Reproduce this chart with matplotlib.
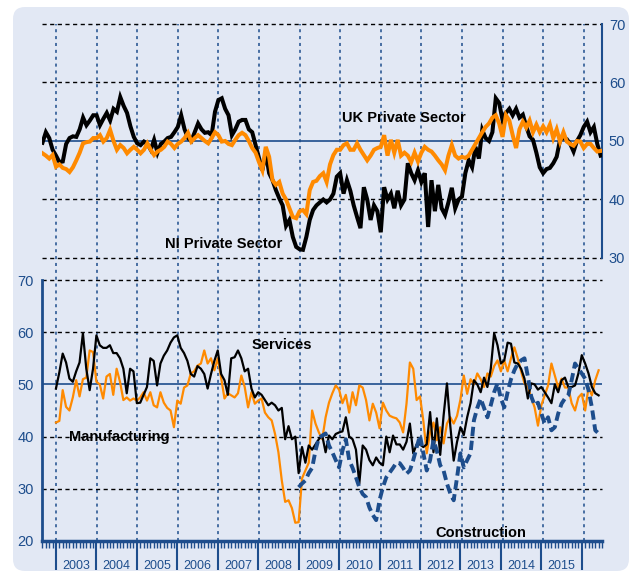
import numpy as np
import matplotlib
matplotlib.use("Agg")
import matplotlib.pyplot as plt
from matplotlib.patches import FancyBboxPatch
import matplotlib.transforms as mtransforms

plt.rcParams['font.family'] = ['Liberation Sans', 'DejaVu Sans']

# monthly PMI readings
# top panel starts Sep 2002, bottom panel Jan 2003, construction Jan 2009
ni_private = [
    49.7, 51.5, 50.5, 48.5,
    47.5, 46.4, 46.5, 49.5, 50.5, 50.8, 50.7, 52.0, 54.0, 52.7, 53.5, 54.4,
    54.4, 52.7, 53.8, 54.8, 53.5, 55.5, 55.0, 57.5, 56.0, 54.8, 52.5, 50.7,
    49.6, 49.3, 49.9, 49.5, 48.5, 50.2, 48.0, 49.5, 49.9, 50.5, 50.7, 51.5,
    52.4, 54.4, 52.0, 50.5, 50.0, 51.5, 53.0, 52.0, 51.4, 51.5, 51.0, 55.0,
    57.0, 57.3, 55.5, 54.4, 51.0, 52.0, 53.3, 53.6, 53.6, 52.0, 51.5, 49.3,
    47.1, 45.0, 48.0, 44.5, 43.3, 41.6, 40.2, 39.0, 35.5, 36.5, 33.6, 31.9,
    31.5, 31.4, 33.6, 36.5, 38.2, 39.0, 39.5, 40.0, 39.5, 40.0, 41.0, 43.9,
    44.5, 41.0, 43.3, 41.5, 39.0, 37.0, 35.1, 42.1, 40.0, 36.5, 39.0, 38.0,
    34.4, 42.1, 40.0, 41.0, 38.5, 41.5, 39.0, 40.0, 46.2, 44.5, 43.3, 45.0,
    43.0, 44.5, 35.3, 43.3, 38.0, 42.5, 38.5, 37.4, 39.5, 42.0, 38.5, 40.0,
    40.5, 44.5, 46.7, 45.5, 49.0, 47.0, 51.9, 50.5, 50.0, 51.5, 57.3, 56.5,
    53.6, 54.8, 55.5, 54.4, 55.5, 54.0, 54.5, 52.5, 50.8, 50.2, 48.0, 45.5,
    44.5, 45.2, 45.4, 46.2, 47.3, 50.2, 50.5, 50.3, 49.5, 48.2, 50.0, 51.0,
    52.4, 53.3, 51.5, 52.4, 49.5, 47.5,
]
uk_private = [
    47.9, 47.5, 47.0, 47.6,
    45.6, 46.0, 45.4, 45.2, 44.7, 45.5, 46.7, 48.0, 49.6, 49.8, 49.9, 50.5,
    50.5, 51.0, 49.9, 50.5, 51.9, 50.0, 48.5, 49.3, 48.8, 47.9, 48.5, 49.0,
    48.5, 47.9, 48.5, 49.6, 48.5, 47.6, 48.2, 48.5, 49.0, 49.9, 49.5, 48.8,
    49.5, 49.9, 50.5, 51.4, 49.9, 50.5, 51.0, 50.5, 50.0, 49.6, 50.5, 51.5,
    51.0, 49.9, 50.0, 49.5, 49.3, 50.2, 51.0, 51.4, 51.0, 50.0, 48.8, 48.0,
    46.4, 45.0, 49.0, 47.3, 43.3, 42.5, 43.0, 41.0, 40.0, 38.5, 37.0, 36.8,
    38.0, 38.2, 37.5, 41.6, 43.0, 43.2, 44.0, 44.5, 43.0, 46.0, 47.6, 48.5,
    48.5, 49.3, 49.6, 48.5, 48.5, 49.6, 48.5, 47.6, 46.7, 47.5, 48.5, 48.8,
    49.0, 51.0, 47.5, 50.2, 48.0, 50.2, 47.5, 48.0, 47.5, 46.4, 48.0, 46.5,
    48.0, 49.0, 48.5, 48.2, 47.5, 46.7, 46.0, 45.0, 47.5, 49.3, 47.5, 47.0,
    47.3, 47.1, 47.5, 48.5, 49.5, 50.5, 51.5, 52.4, 53.0, 54.0, 54.4, 53.0,
    50.7, 54.4, 53.5, 51.0, 48.8, 52.0, 53.3, 52.3, 53.5, 51.5, 52.8, 51.5,
    52.5, 51.5, 52.8, 50.5, 52.0, 49.9, 51.5, 49.9, 49.5, 49.2, 50.0, 49.9,
    48.8, 49.5, 49.5, 48.8, 48.2, 48.3,
]
services = [
    49.2, 52.3, 55.9, 54.2, 51.1, 50.5, 52.5, 54.2, 59.8, 53.0, 48.9, 53.0,
    59.4, 57.5, 57.0, 57.0, 57.5, 56.0, 56.0, 55.0, 53.0, 48.3, 53.0, 52.5,
    46.4, 46.5, 48.0, 49.5, 55.0, 54.5, 49.8, 54.0, 55.5, 56.5, 58.0, 59.0,
    59.4, 57.0, 56.0, 54.5, 52.0, 51.5, 53.5, 53.0, 52.0, 49.2, 52.0, 54.5,
    56.5, 52.0, 50.8, 48.0, 55.0, 55.2, 56.5, 55.0, 52.5, 53.0, 49.2, 47.5,
    48.5, 48.0, 47.0, 46.0, 46.5, 46.0, 45.0, 45.5, 39.5, 42.0, 39.5, 40.0,
    33.0, 38.0, 35.0, 38.3, 37.5, 38.5, 39.5, 40.2, 37.0, 40.2, 39.5, 40.5,
    40.8, 41.0, 43.7, 40.0, 39.5, 37.5, 31.0, 38.3, 37.5, 35.5, 34.5, 36.0,
    35.0, 34.5, 40.0, 37.0, 40.2, 38.5, 38.5, 37.5, 39.0, 42.5, 36.8, 38.5,
    38.5, 38.0, 38.5, 44.7, 37.0, 43.5, 36.5, 44.0, 50.2, 42.0, 35.4, 39.0,
    41.8, 40.3, 43.7, 46.4, 50.8, 50.0, 48.5, 51.3, 49.5, 53.0, 59.8, 57.5,
    54.0, 54.6, 58.0, 57.8, 54.2, 54.0, 53.0, 51.1, 47.3, 50.2, 50.0, 49.0,
    49.5, 48.5, 47.5, 46.4, 50.0, 48.5, 50.8, 51.3, 49.5, 49.5, 49.8, 52.1,
    55.6, 54.0, 52.1, 49.5, 48.3, 47.9,
]
manufacturing = [
    42.7, 43.0, 48.9, 45.7, 45.0, 47.5, 50.8, 47.7, 51.0, 51.3, 56.5, 56.2,
    50.5, 50.0, 47.3, 51.5, 52.0, 48.0, 53.0, 50.5, 47.0, 47.5, 46.9, 47.3,
    46.9, 47.5, 48.5, 46.9, 48.5, 46.0, 45.6, 48.5, 46.5, 45.5, 45.0, 41.8,
    46.9, 46.3, 49.4, 49.8, 52.1, 52.5, 53.6, 54.0, 56.5, 54.0, 55.0, 52.7,
    55.0, 51.3, 47.3, 48.3, 47.9, 47.5, 48.3, 51.7, 49.5, 45.6, 48.5, 46.3,
    46.9, 47.3, 44.6, 43.7, 43.1, 40.5, 37.0, 31.6, 27.5, 27.8, 26.3, 23.5,
    23.6, 32.0, 33.5, 35.0, 45.0, 42.5, 40.8, 39.5, 43.7, 46.5, 48.3, 49.8,
    49.0, 46.4, 48.0, 44.6, 48.5, 46.0, 49.8, 49.4, 47.0, 43.1, 46.3, 44.6,
    41.6, 46.5, 45.0, 44.0, 43.7, 43.5, 42.7, 40.8, 46.3, 54.2, 53.0, 47.0,
    47.7, 43.0, 36.8, 40.8, 42.7, 39.3, 41.8, 38.7, 42.5, 43.7, 42.5, 44.0,
    47.1, 51.7, 48.2, 51.0, 50.0, 52.1, 51.0, 49.5, 52.1, 51.5, 53.5, 54.6,
    52.5, 54.6, 52.5, 55.0, 57.1, 55.0, 52.5, 50.2, 49.5, 47.5, 45.6, 42.1,
    46.0, 47.9, 49.8, 54.0, 51.7, 49.4, 51.1, 49.4, 49.4, 46.4, 45.0, 47.5,
    48.2, 45.0, 49.4, 47.9, 50.8, 52.7,
]
construction = [
    30.3, 31.0, 31.6, 33.0, 34.0, 37.3, 39.8, 40.2, 40.6, 38.3, 37.0, 35.5,
    34.1, 37.3, 39.5, 35.5, 34.0, 32.2, 30.3, 29.0, 28.4, 26.4, 25.0, 24.0,
    27.8, 30.3, 32.2, 33.1, 34.0, 35.0, 34.9, 34.0, 32.9, 33.5, 35.5, 37.9,
    40.2, 36.8, 33.5, 35.5, 39.3, 37.3, 34.5, 33.5, 31.0, 29.1, 27.8, 32.2,
    36.8, 34.1, 35.5, 36.8, 43.1, 45.5, 47.3, 45.5, 43.7, 46.0, 48.5, 50.2,
    47.3, 45.6, 48.5, 51.0, 52.7, 54.0, 54.6, 55.0, 51.5, 47.7, 46.0, 46.5,
    44.4, 42.5, 43.7, 41.2, 41.8, 44.4, 46.3, 47.3, 47.9, 50.8, 54.0, 53.0,
    52.1, 51.1, 48.9, 45.6, 41.2, 40.6,
]
years = list(range(2003, 2016))

x_top = 2002 + 8 / 12 + np.arange(len(ni_private)) / 12
x_bot = 2003 + np.arange(len(services)) / 12
x_con = 2009 + np.arange(len(construction)) / 12

BLUE = '#1d4d8c'
ORANGE = '#ff8a00'
BG = '#e2e8f4'
XMIN, XMAX = 2002.655, 2016.45

W, H = 634, 573
fig = plt.figure(figsize=(W / 100, H / 100), dpi=100)

box = FancyBboxPatch((0.13, 0.02), 6.16, 5.64, boxstyle='round,pad=0,rounding_size=0.12',
                     transform=fig.dpi_scale_trans, facecolor=BG, edgecolor='none', zorder=0)
fig.add_artist(box)

def rect(x0, y0, x1, y1):
    return [x0 / W, 1 - y1 / H, (x1 - x0) / W, (y1 - y0) / H]

# background axes for the year lines that run through both panels
bg = fig.add_axes(rect(42, 24, 602, 541))
bg.set_xlim(XMIN, XMAX)
bg.set_ylim(0, 1)
bg.axis('off')
for yr in range(2003, 2017):
    bg.axvline(yr, color=BLUE, lw=1.1, ls=(0, (2, 2.5)))

ax1 = fig.add_axes(rect(42, 24, 602, 258))
ax2 = fig.add_axes(rect(42, 280, 602, 541))

for ax in (ax1, ax2):
    ax.patch.set_visible(False)
    ax.set_xlim(XMIN, XMAX)
    for s in ax.spines.values():
        s.set_visible(False)

# top panel
ax1.set_ylim(30, 70)
for v in (30, 40, 60, 70):
    ax1.axhline(v, color='black', lw=1.0, ls=(0, (3, 2.5)), zorder=1, clip_on=False)
ax1.axhline(50, color=BLUE, lw=1.2, zorder=1)
ax1.plot(x_top, ni_private, color='black', lw=2.9, zorder=3, solid_joinstyle='miter')
ax1.plot(x_top, uk_private, color=ORANGE, lw=2.9, zorder=4, solid_joinstyle='miter')
ax1.spines['right'].set_visible(True)
ax1.spines['right'].set_color(BLUE)
ax1.spines['right'].set_linewidth(1.5)
ax1.yaxis.tick_right()
ax1.set_yticks([30, 40, 50, 60, 70])
ax1.tick_params(axis='y', length=0, pad=5, labelsize=10.5, labelcolor=BLUE)
ax1.set_xticks([])
ax1.text(2010.05, 53.9, 'UK Private Sector', fontsize=10.5, fontweight='bold', va='center', zorder=5)
ax1.text(2005.68, 32.4, 'NI Private Sector', fontsize=10.5, fontweight='bold', va='center', zorder=5)

# bottom panel
ax2.set_ylim(20, 70)
for v in (30, 40, 60, 70):
    ax2.axhline(v, color='black', lw=1.0, ls=(0, (3, 2.5)), zorder=1, clip_on=False)
ax2.axhline(50, color=BLUE, lw=1.2, zorder=1)
ax2.plot(x_bot, manufacturing, color=ORANGE, lw=1.6, zorder=3)
ax2.plot(x_bot, services, color='black', lw=1.6, zorder=4)
ax2.plot(x_con, construction, color=BLUE, lw=2.8, ls=(0, (2.4, 1.2)), zorder=5)
ax2.spines['left'].set_visible(True)
ax2.spines['left'].set_color(BLUE)
ax2.spines['left'].set_linewidth(2)
ax2.spines['bottom'].set_visible(True)
ax2.spines['bottom'].set_color(BLUE)
ax2.spines['bottom'].set_linewidth(2.5)
ax2.set_yticks([20, 30, 40, 50, 60, 70])
ax2.tick_params(axis='y', length=0, pad=6, labelsize=10.5, labelcolor=BLUE)
ax2.set_xticks(range(2003, 2017))
ax2.set_xticks(2002 + 8 / 12 + np.arange(167) / 12, minor=True)
ax2.set_xticklabels([])
ax2.tick_params(axis='x', which='major', direction='out', length=21, width=1.5, color=BLUE)
ax2.tick_params(axis='x', which='minor', direction='out', length=5, width=1.0, color=BLUE)
tr = mtransforms.blended_transform_factory(ax2.transData, ax2.transAxes)
for yr in years:
    ax2.text(yr + 0.5, -0.095, str(yr), transform=tr, ha='center', va='center',
             fontsize=9, color=BLUE)
ax2.text(2007.83, 57.5, 'Services', fontsize=10.5, fontweight='bold', va='center', zorder=6)
ax2.text(2003.32, 39.9, 'Manufacturing', fontsize=10.5, fontweight='bold', va='center', zorder=6)
ax2.text(2012.38, 21.5, 'Construction', fontsize=10.5, fontweight='bold', va='center', zorder=6)

fig.savefig('out.png', dpi=100)
